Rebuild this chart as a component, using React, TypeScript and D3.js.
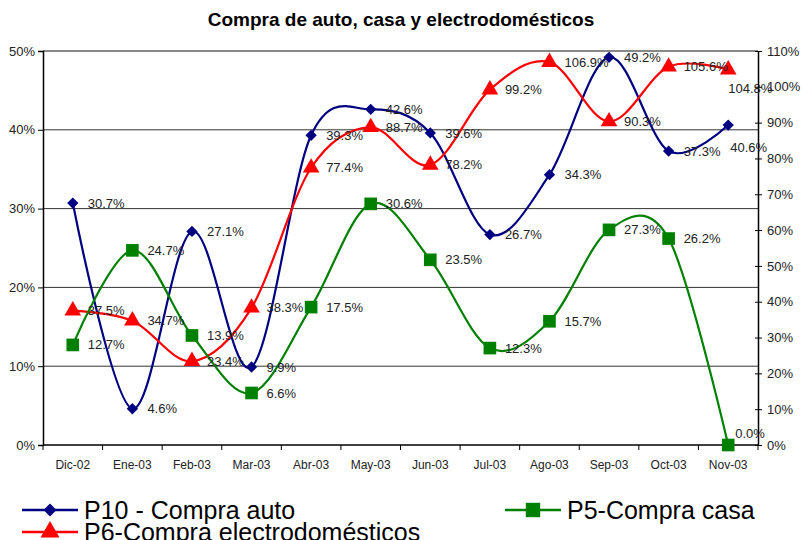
import React, { useRef, useEffect } from 'react';
import * as d3 from 'd3';

const months = ['Dic-02', 'Ene-03', 'Feb-03', 'Mar-03', 'Abr-03', 'May-03', 'Jun-03', 'Jul-03', 'Ago-03', 'Sep-03', 'Oct-03', 'Nov-03'];
const autoValues = [30.7, 4.6, 27.1, 9.9, 39.3, 42.6, 39.6, 26.7, 34.3, 49.2, 37.3, 40.6];
const casaValues = [12.7, 24.7, 13.9, 6.6, 17.5, 30.6, 23.5, 12.3, 15.7, 27.3, 26.2, 0.0];
const electroValues = [37.5, 34.7, 23.4, 38.3, 77.4, 88.7, 78.2, 99.2, 106.9, 90.3, 105.6, 104.8];
const leftTicks = [0, 10, 20, 30, 40, 50];
const rightTicks = [0, 10, 20, 30, 40, 50, 60, 70, 80, 90, 100, 110];

const App = () => {
  const svgRef = useRef(null);

  useEffect(() => {
    const svg = d3.select(svgRef.current);
    svg.selectAll('*').remove();

    const width = 802;
    const height = 540;
    const margin = { top: 51, right: 44, bottom: 95, left: 43 };
    const font = 'Arial, "Liberation Sans", sans-serif';

    const x = d3.scaleBand().domain(months).range([margin.left, width - margin.right]);
    const cx = (i) => x(months[i]) + x.bandwidth() / 2;
    const yL = d3.scaleLinear().domain([0, 50]).range([height - margin.bottom, margin.top]);
    const yR = d3.scaleLinear().domain([0, 110]).range([height - margin.bottom, margin.top]);

    // title
    svg.append('text')
      .attr('x', width / 2)
      .attr('y', 26)
      .attr('text-anchor', 'middle')
      .attr('font-family', font)
      .attr('font-size', '19px')
      .attr('font-weight', 'bold')
      .text('Compra de auto, casa y electrodomésticos');

    // gridlines
    svg.append('g')
      .selectAll('line')
      .data(leftTicks.filter(t => t > 0))
      .join('line')
      .attr('x1', margin.left)
      .attr('x2', width - margin.right)
      .attr('y1', d => yL(d))
      .attr('y2', d => yL(d))
      .attr('stroke', d => d === 50 ? '#888' : '#333')
      .attr('stroke-width', d => d === 50 ? 2 : 1);

    // left axis
    const left = svg.append('g')
      .attr('transform', `translate(${margin.left},0)`)
      .call(d3.axisLeft(yL).tickValues(leftTicks).tickSize(5).tickFormat(d => d + '%'));
    left.select('.domain').attr('stroke', '#000').attr('stroke-width', 1.5);
    left.selectAll('text').attr('font-family', font).attr('font-size', '13px').attr('fill', '#222').attr('x', -8);

    // right axis
    const right = svg.append('g')
      .attr('transform', `translate(${width - margin.right},0)`)
      .call(d3.axisRight(yR).tickValues(rightTicks).tickSizeInner(4).tickSizeOuter(0).tickFormat(d => d + '%'));
    right.selectAll('.tick line').attr('x1', -3);
    right.select('.domain').attr('stroke', '#000').attr('stroke-width', 1.5);
    right.selectAll('text').attr('font-family', font).attr('font-size', '13px').attr('fill', '#222').attr('x', 9);

    // bottom axis
    const bottom = svg.append('g').attr('transform', `translate(0,${height - margin.bottom})`);
    bottom.append('line')
      .attr('x1', margin.left).attr('x2', width - margin.right)
      .attr('stroke', '#000').attr('stroke-width', 1.5);
    bottom.selectAll('line.tk')
      .data(d3.range(months.length + 1))
      .join('line')
      .attr('class', 'tk')
      .attr('x1', i => margin.left + i * x.bandwidth())
      .attr('x2', i => margin.left + i * x.bandwidth())
      .attr('y1', 0).attr('y2', 5)
      .attr('stroke', '#000');
    bottom.selectAll('text')
      .data(months)
      .join('text')
      .attr('x', (d, i) => cx(i))
      .attr('y', 24)
      .attr('text-anchor', 'middle')
      .attr('font-family', '"Liberation Sans Narrow", "Arial Narrow", Arial, sans-serif')
      .attr('font-size', '12px')
      .attr('fill', '#222')
      .text(d => d);

    // diamond = square turned 45deg
    const series = [
      { name: 'P10 - Compra auto', values: autoValues, y: yL, color: '#000080', symbol: d3.symbolSquare, rot: 45, size: 64, last: [2, 22] },
      { name: 'P6-Compra electrodomésticos', values: electroValues, y: yR, color: '#FF0000', symbol: d3.symbolTriangle, rot: 0, size: 120, last: [0, 19] },
      { name: 'P5-Compra casa', values: casaValues, y: yL, color: '#008000', symbol: d3.symbolSquare, rot: 0, size: 160, last: [7, -12] },
    ];

    const lineGen = (yS) => d3.line()
      .x((d, i) => cx(i))
      .y(d => yS(d))
      .curve(d3.curveCatmullRom.alpha(0));

    series.forEach(s => {
      const g = svg.append('g');
      g.append('path')
        .datum(s.values)
        .attr('d', lineGen(s.y))
        .attr('fill', 'none')
        .attr('stroke', s.color)
        .attr('stroke-width', 2.2);
      g.selectAll('path.mk')
        .data(s.values)
        .join('path')
        .attr('class', 'mk')
        .attr('transform', (d, i) => `translate(${cx(i)},${s.y(d)}) rotate(${s.rot})`)
        .attr('d', d3.symbol().type(s.symbol).size(s.size))
        .attr('fill', s.color);
    });

    // data labels
    series.forEach(s => {
      svg.append('g')
        .selectAll('text')
        .data(s.values)
        .join('text')
        .attr('x', (d, i) => cx(i) + (i === s.values.length - 1 ? s.last[0] : 15))
        .attr('y', (d, i) => s.y(d) + (i === s.values.length - 1 ? s.last[1] : 0))
        .attr('dy', '0.35em')
        .attr('font-family', font)
        .attr('font-size', '13px')
        .attr('fill', '#222')
        .text(d => d.toFixed(1) + '%');
    });

    // legend
    const legendPos = [[22, 510], [22, 532], [505, 510]];
    series.forEach((s, k) => {
      const [lx, ly] = legendPos[k];
      const g = svg.append('g').attr('transform', `translate(${lx},${ly})`);
      g.append('line').attr('x1', 0).attr('x2', 56).attr('stroke', s.color).attr('stroke-width', 2.5);
      g.append('path')
        .attr('transform', `translate(28,0) rotate(${s.rot})`)
        .attr('d', d3.symbol().type(s.symbol).size(s.size * 1.3))
        .attr('fill', s.color);
      g.append('text')
        .attr('x', 62)
        .attr('y', 9)
        .attr('font-family', font)
        .attr('font-size', '25px')
        .attr('fill', '#000')
        .text(s.name);
    });
  }, []);

  return (
    <svg ref={svgRef} width={802} height={540} style={{ position: 'absolute', left: 0, top: 0, background: '#fff' }}></svg>
  );
};

export default App;
